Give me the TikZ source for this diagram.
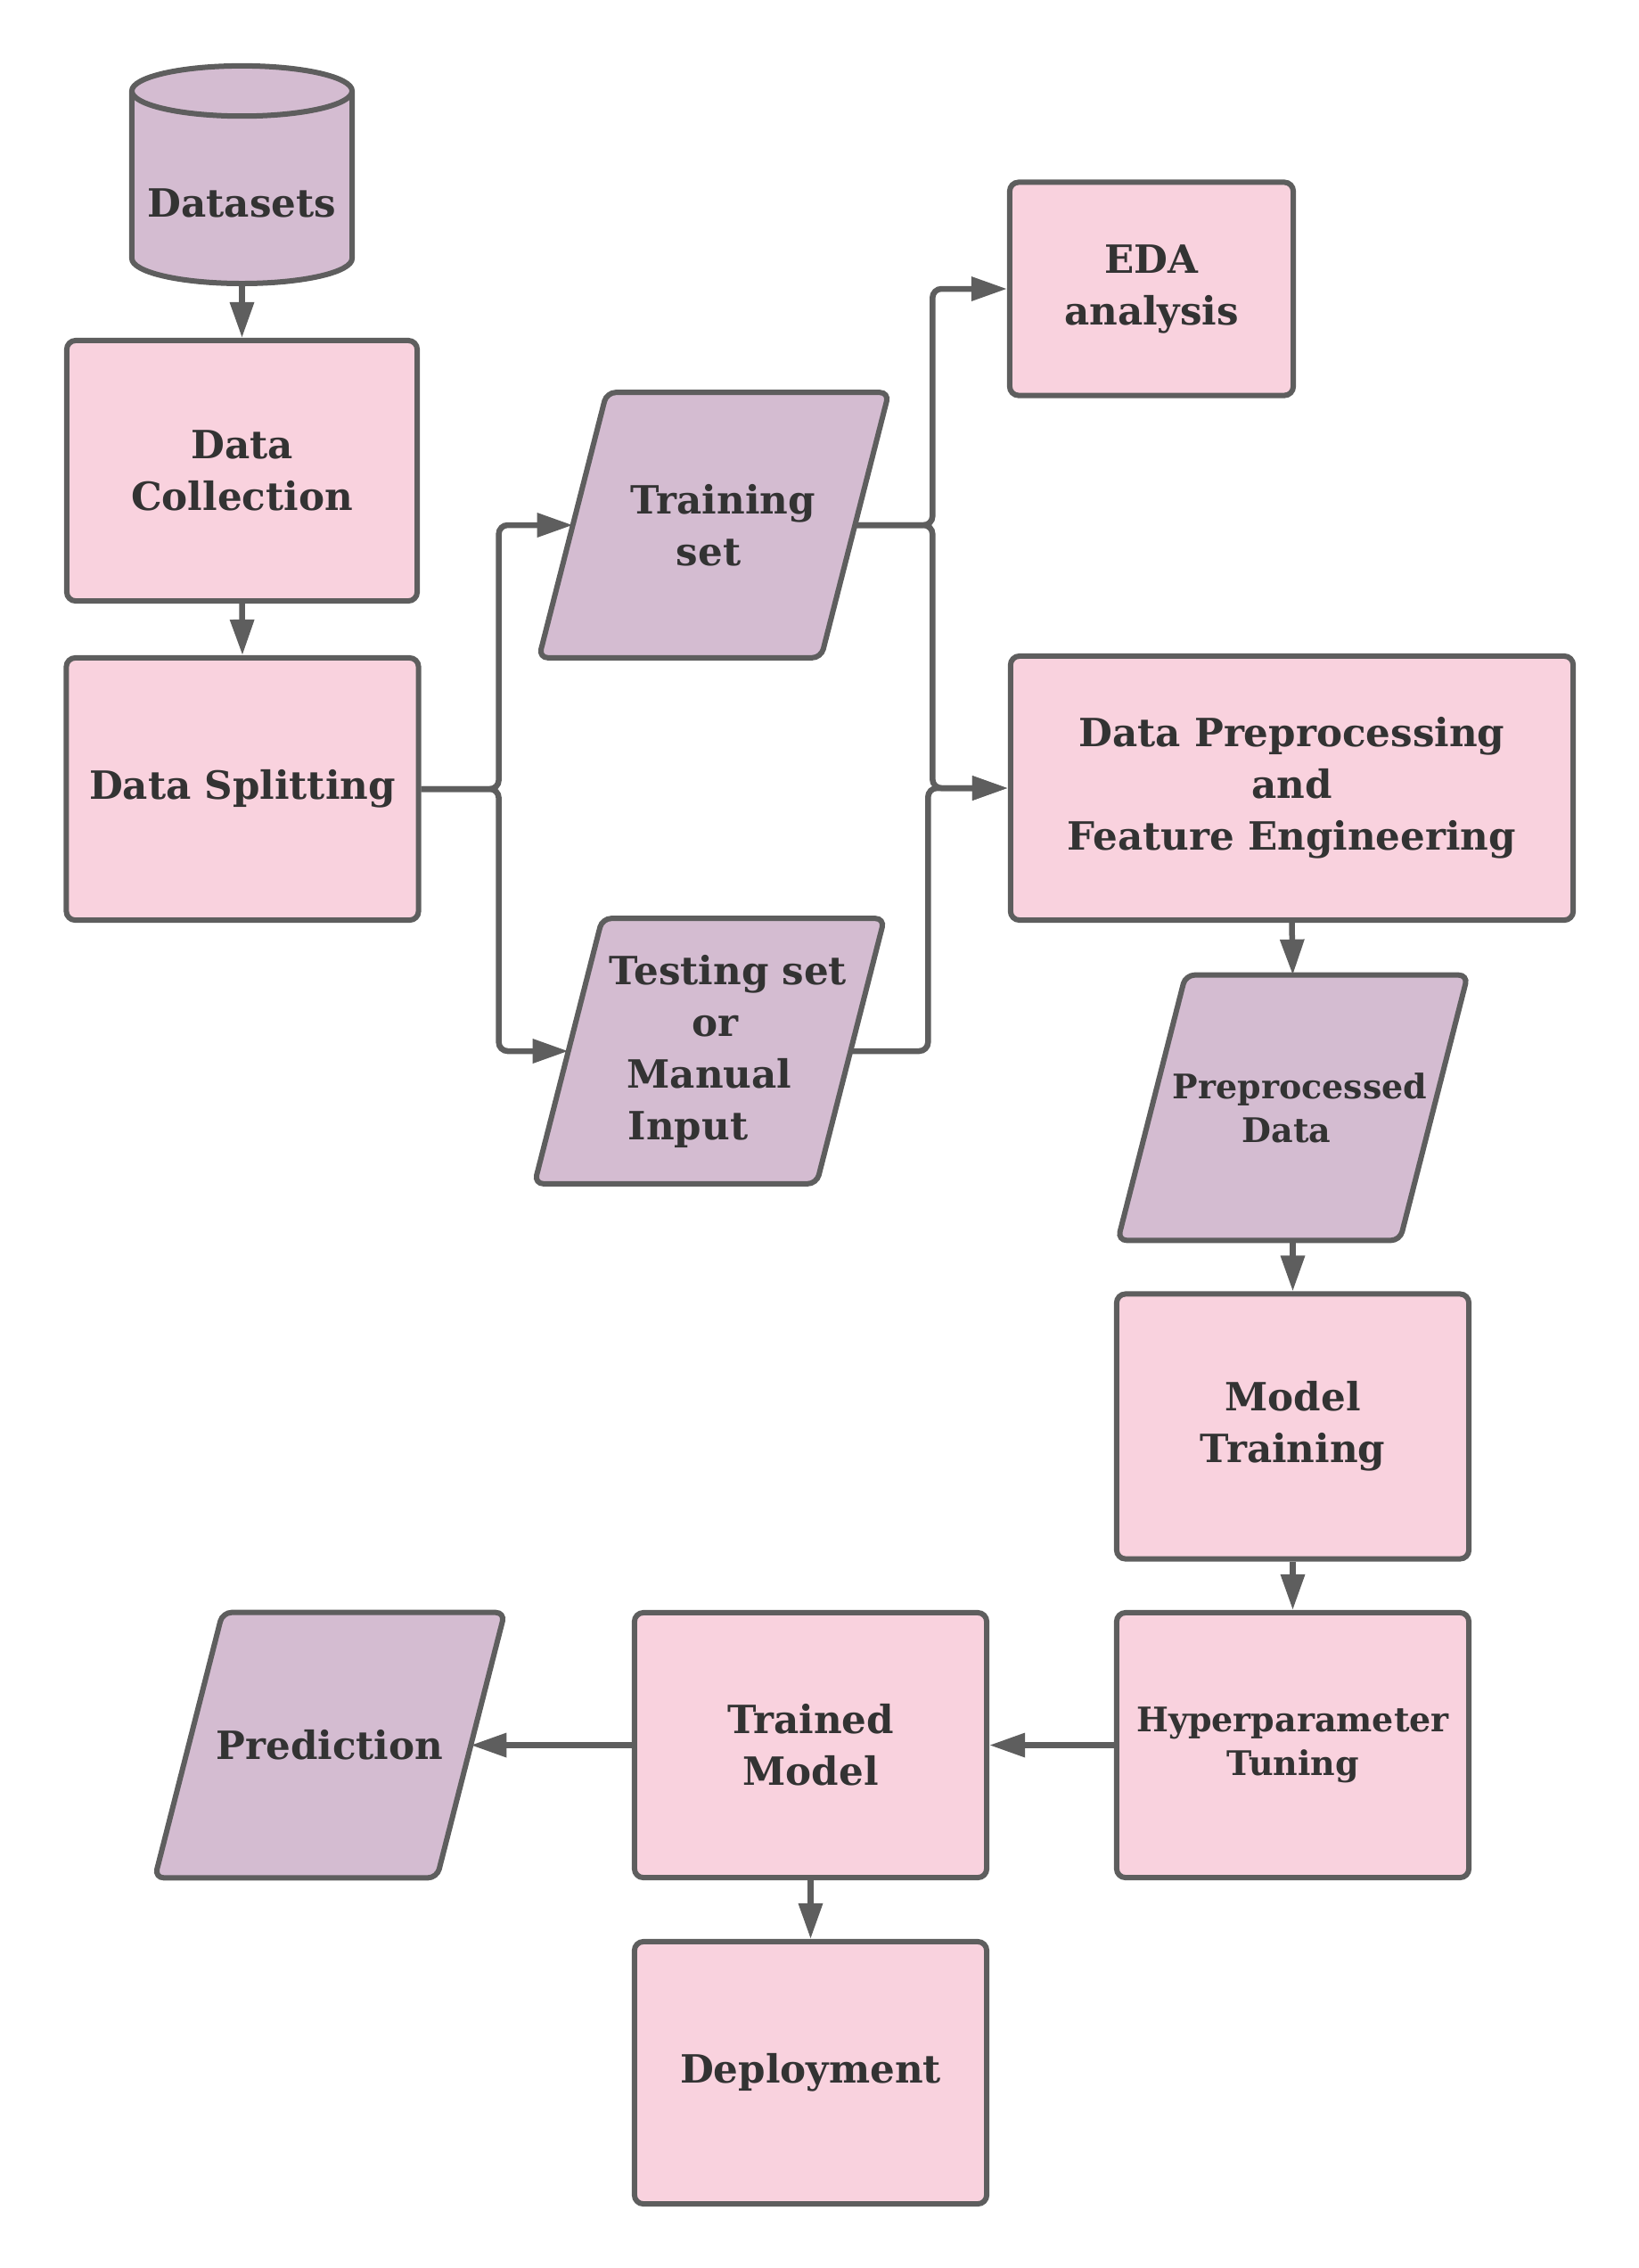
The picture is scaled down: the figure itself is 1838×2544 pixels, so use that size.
\documentclass[tikz,border=0pt]{standalone}
\usepackage{fontspec}
\setmainfont{DejaVu Serif}
\usepackage{tikz}
\usetikzlibrary{shapes.geometric, arrows.meta, backgrounds}

\definecolor{pinkbox}{HTML}{F9D2DE}
\definecolor{lilac}{HTML}{D4BCD1}
\definecolor{edge}{HTML}{5E5E5E}
\definecolor{ink}{HTML}{333333}

\begin{document}
\begin{tikzpicture}[x=0.01cm, y=-0.01cm,
  every node/.style={text=ink, font=\bfseries\fontsize{12.4}{16.5}\selectfont, align=center},
  box/.style={rectangle, rounded corners=0.1cm, draw=edge, fill=pinkbox, line width=0.06cm},
  iodata/.style={rectangle, inner xsep=0pt, minimum width=3.15cm, minimum height=2.96cm},
  slantbox/.style={rounded corners=0.1cm, draw=edge, fill=lilac, line width=0.06cm},
  db/.style={cylinder, shape border rotate=90, aspect=0.24, draw=edge, fill=lilac, line width=0.06cm},
  small/.style={font=\bfseries\fontsize{10.8}{13.9}\selectfont},
  flow/.style={draw=edge, line width=0.065cm, rounded corners=0.1cm, -{Triangle[length=0.4cm, width=0.26cm]}}]
\useasboundingbox (0,0) rectangle (1838,2544);

\node[db, minimum width=2.47cm, minimum height=2.44cm, anchor=south] (datasets) at (271.5,321) {\raisebox{-0.1cm}[\height][\depth]{Datasets}};
\node[box, minimum width=3.93cm, minimum height=2.92cm] (collect) at (271.5,528) {Data\\Collection};
\node[box, minimum width=3.95cm, minimum height=2.94cm] (split) at (272,885) {Data Splitting};

\node[iodata] (train) at (801,589) {\hspace*{0.2cm}Training\\set\hspace*{0.12cm}};
\node[iodata] (test) at (796,1179) {\hspace*{0.42cm}Testing set\\\hspace*{0.13cm}or\\Manual\hspace*{0.16cm}\\Input\hspace*{0.48cm}};

\node[box, minimum width=3.18cm, minimum height=2.39cm] (eda) at (1292,324) {EDA\\analysis};
\node[box, minimum width=6.31cm, minimum height=2.96cm] (prep) at (1449.5,884) {Data Preprocessing\\and\\Feature Engineering};
\node[iodata, small] (ppd) at (1450.5,1242.5) {\hspace*{0.16cm}Preprocessed\\Data\hspace*{0.14cm}};
\node[box, minimum width=3.95cm, minimum height=2.97cm] (model) at (1450.5,1600) {Model\\Training};
\node[box, small, minimum width=3.95cm, minimum height=2.97cm] (hyper) at (1450.5,1957.5) {Hyperparameter\\Tuning};
\node[box, minimum width=3.95cm, minimum height=2.97cm] (trained) at (909.5,1957.5) {Trained\\Model};
\node[iodata] (predict) at (370,1957.5) {Prediction};
\node[box, minimum width=3.95cm, minimum height=2.94cm] (deploy) at (909.5,2325) {Deployment};

% slanted data boxes behind their text
\begin{pgfonlayer}{background}
\foreach \n in {train, test, ppd, predict}
  \draw[slantbox] ([xshift=-0.38cm]\n.south west) -- ([xshift=0.38cm]\n.north west)
    -- ([xshift=0.38cm]\n.north east) -- ([xshift=-0.38cm]\n.south east) -- cycle;
\end{pgfonlayer}

% straight arrows
\draw[flow] (datasets.south) -- (collect.north);
\draw[flow] (collect.south) -- (split.north);
\draw[flow] (prep.south) -- (ppd.north);
\draw[flow] (ppd.south) -- (model.north);
\draw[flow] (model.south) -- (hyper.north);
\draw[flow] (hyper.west) -- (trained.east);
\draw[flow] (trained.west) -- (predict.east);
\draw[flow] (trained.south) -- (deploy.north);

% split and merge
\draw[flow] (split.east) -- ++(87,0) |- (train.west);
\draw[flow] (split.east) -- ++(87,0) |- (test.west);
\draw[flow] (train.east) -- ++(87,0) |- (eda.west);
\draw[flow] (train.east) -- ++(87,0) |- (prep.west);
\draw[flow] (test.east) -- ++(87,0) |- (prep.west);
\end{tikzpicture}
\end{document}
